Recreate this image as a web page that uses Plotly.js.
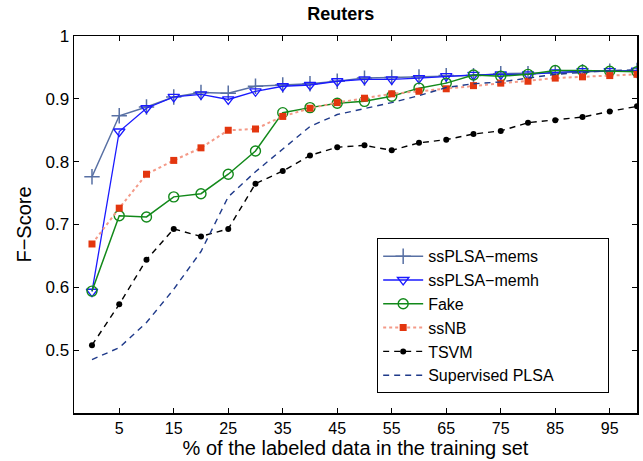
<!DOCTYPE html>
<html>
<head>
<meta charset="utf-8">
<script src="https://cdn.plot.ly/plotly-3.0.1.min.js"></script>
<style>html,body{margin:0;padding:0;background:#fff;}#chart{width:643px;height:461px;}</style>
</head>
<body>
<div id="chart"></div>
<script>
const xPercent = [0,5,10,15,20,25,30,35,40,45,50,55,60,65,70,75,80,85,90,95,100];
const xTickVals = [5,15,25,35,45,55,65,75,85,95];
const yTickVals = [0.5,0.6,0.7,0.8,0.9,1];
const seriesNames = ["ssPLSA−mems","ssPLSA−memh","Fake","ssNB","TSVM","Supervised PLSA"];
const mems = [0.776,0.873,0.887,0.903,0.910,0.909,0.920,0.922,0.924,0.928,0.933,0.934,0.935,0.937,0.937,0.940,0.940,0.941,0.943,0.944,0.945];
const memh = [0.593,0.848,0.885,0.903,0.907,0.899,0.912,0.920,0.922,0.928,0.931,0.931,0.933,0.936,0.938,0.939,0.939,0.942,0.944,0.944,0.945];
const fake = [0.594,0.714,0.712,0.744,0.749,0.780,0.817,0.878,0.886,0.893,0.896,0.904,0.917,0.925,0.938,0.936,0.939,0.945,0.945,0.944,0.943];
const ssnb = [0.669,0.726,0.780,0.802,0.822,0.850,0.852,0.872,0.885,0.894,0.901,0.908,0.912,0.916,0.921,0.925,0.928,0.933,0.935,0.937,0.939];
const tsvm = [0.508,0.573,0.644,0.693,0.681,0.693,0.765,0.785,0.810,0.823,0.826,0.818,0.830,0.835,0.844,0.849,0.862,0.866,0.871,0.880,0.888];
const splsa = [0.485,0.504,0.544,0.597,0.657,0.744,0.784,0.820,0.856,0.875,0.884,0.894,0.905,0.918,0.924,0.927,0.933,0.939,0.942,0.945,0.946];

const pad = '\u00a0'.repeat(11);
const traces = [
  {x:xPercent, y:mems, name:seriesNames[0], legendgroup:'g1', mode:'lines+markers',
   line:{color:'#5870a4', width:1.5}, marker:{symbol:'cross-thin-open', size:11, color:'#5870a4', line:{color:'#5870a4', width:1.5}}},
  {x:xPercent, y:memh, name:seriesNames[1], legendgroup:'g2', mode:'lines+markers',
   line:{color:'#1a1aff', width:1.3}, marker:{symbol:'triangle-down-open', size:10, color:'#1a1aff', line:{color:'#1a1aff', width:1.3}}},
  {x:xPercent, y:fake, name:seriesNames[2], legendgroup:'g3', mode:'lines+markers',
   line:{color:'#12891a', width:1.5}, marker:{symbol:'circle-open', size:10, color:'#12891a', line:{color:'#12891a', width:1.4}}},
  {x:xPercent, y:ssnb, name:seriesNames[3], legendgroup:'g4', mode:'lines+markers',
   line:{color:'#f49a88', width:2, dash:'dot'}, marker:{symbol:'square', size:7, color:'#e3360f'}},
  {x:xPercent, y:tsvm, name:seriesNames[4], legendgroup:'g5', mode:'lines+markers',
   line:{color:'#000000', width:1.4, dash:'6px,5px'}, marker:{symbol:'circle', size:6, color:'#000000'}},
  {x:xPercent, y:splsa, name:seriesNames[5] + pad, legendgroup:'g6', mode:'lines',
   line:{color:'#1f3a8a', width:1.4, dash:'6px,5px'}}
];

const font = "Arial, 'Liberation Sans', Helvetica, sans-serif";
const layout = {
  width:643, height:461,
  margin:{l:74, r:6, t:36, b:48},
  paper_bgcolor:'#fff', plot_bgcolor:'#fff',
  font:{family:font, size:16, color:'#000'},
  showlegend:true,
  title:{text:'<b>Reuters</b>', font:{family:font, size:18, color:'#000'}, x:0.53, xanchor:'center', y:0.985, yanchor:'top'},
  xaxis:{range:[-3.3,100], tickvals:xTickVals, ticktext:xTickVals.map(String), ticks:'inside', ticklen:5, tickwidth:1,
         tickcolor:'#000', showline:true, linecolor:'#000', linewidth:1.5, mirror:'ticks', showgrid:false, zeroline:false,
         tickfont:{family:font, size:16}, title:{text:'% of the labeled data in the training set', font:{family:font, size:20}, standoff:4}},
  yaxis:{range:[0.4,1], tickvals:yTickVals, ticks:'inside', ticklen:5, tickwidth:1,
         tickcolor:'#000', showline:true, linecolor:'#000', linewidth:1.5, mirror:'ticks', showgrid:false, zeroline:false,
         tickfont:{family:font, size:17}, title:{text:'F−Score', font:{family:font, size:20}, standoff:8}},
  legend:{x:0.5385, y:0.4634, xanchor:'left', yanchor:'top', bgcolor:'#fff', bordercolor:'#000', borderwidth:1,
          font:{family:font, size:16}, itemwidth:40, tracegroupgap:0}
};
Plotly.newPlot('chart', traces, layout, {displayModeBar:false, staticPlot:true});
</script>
</body>
</html>
